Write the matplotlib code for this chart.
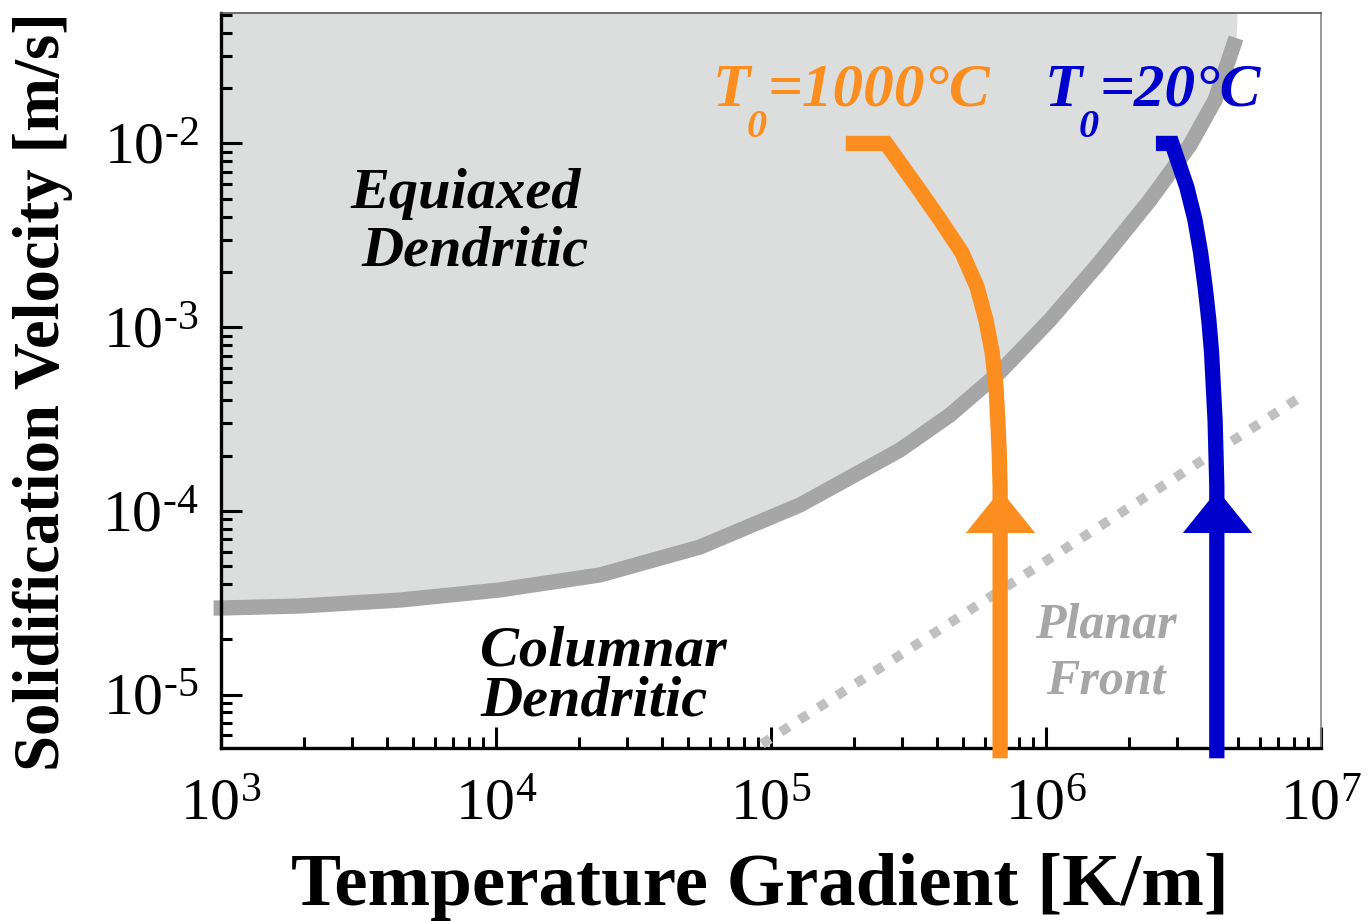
import numpy as np
import matplotlib
matplotlib.use("Agg")
import matplotlib.pyplot as plt
from matplotlib.ticker import FuncFormatter, LogLocator, NullFormatter

plt.rcParams.update({"font.family": "Liberation Serif", "mathtext.fontset": "custom",
                     "mathtext.rm": "Liberation Serif", "mathtext.it": "Liberation Serif:italic",
                     "mathtext.bf": "Liberation Serif:bold"})

# CET boundary (gray band)
cet_G = [9.4e2, 1.0e3, 1.94e3, 4.48e3, 1.03e4, 2.39e4, 5.52e4, 1.275e5, 2.945e5, 4.48e5,
         6.80e5, 1.034e6, 1.572e6, 2.39e6, 3.34e6, 4.12e6, 4.91e6]
cet_V = [2.96e-5, 2.96e-5, 3.035e-5, 3.27e-5, 3.71e-5, 4.48e-5, 6.36e-5, 1.077e-4, 2.145e-4, 3.33e-4,
         5.70e-4, 1.094e-3, 2.264e-3, 4.925e-3, 9.81e-3, 1.725e-2, 3.75e-2]
fill_top_G = 4.95e6

# planar front limit (dotted)
planar_G = [9.27e4, 8.89e6]
planar_V = [5.38e-6, 4.39e-4]

# cooling paths
hot_G = [1.87e5, 2.62e5, 3.40e5, 4.12e5, 4.95e5, 5.61e5, 6.05e5, 6.37e5, 6.58e5, 6.68e5,
         6.76e5, 6.81e5, 6.81e5]
hot_V = [1e-2, 1e-2, 5.8e-3, 3.84e-3, 2.54e-3, 1.66e-3, 1.09e-3, 7.3e-4, 4.73e-4, 3.1e-4,
         2.07e-4, 1.35e-4, 4.5e-6]
cold_G = [2.51e6, 2.87e6, 3.25e6, 3.48e6, 3.65e6, 3.79e6, 3.91e6, 4.00e6, 4.06e6, 4.12e6,
          4.15e6, 4.18e6, 4.18e6]
cold_V = [1e-2, 1e-2, 5.8e-3, 3.84e-3, 2.54e-3, 1.66e-3, 1.09e-3, 7.3e-4, 4.73e-4, 3.1e-4,
          2.07e-4, 1.35e-4, 4.5e-6]
arrow_V = 1e-4

x_ticks = [1e3, 1e4, 1e5, 1e6, 1e7]
y_ticks = [1e-5, 1e-4, 1e-3, 1e-2]
xlim = (1e3, 1e7)
ylim = (5.12e-6, 5.13e-2)

ORANGE = "#FC8D1F"
BLUE = "#0000CC"

fig = plt.figure(figsize=(13.67, 9.21), dpi=100)
ax = fig.add_axes([221/1367, 173/921, 1100/1367, 735/921])
ax.set_xscale("log"); ax.set_yscale("log")
ax.set_xlim(*xlim); ax.set_ylim(*ylim)

ax.fill_between(cet_G + [fill_top_G], cet_V + [ylim[1]], ylim[1], color="#dcdddd", lw=0, zorder=1)
ax.plot(cet_G, cet_V, color="#a6a6a6", lw=11, solid_capstyle="butt", solid_joinstyle="round",
        clip_on=False, zorder=2)
ax.plot(planar_G, planar_V, color="#c0c0c0", lw=7, ls=(0, (1, 1.3)), dash_capstyle="butt", zorder=3)

tri = [(-1, -0.62), (1, -0.62), (0, 0.62), (-1, -0.62)]
for G, V, col in [(hot_G, hot_V, ORANGE), (cold_G, cold_V, BLUE)]:
    ax.plot(G, V, color=col, lw=11, solid_capstyle="butt", solid_joinstyle="miter",
            clip_on=False, zorder=4)
    ax.plot([G[-1]], [arrow_V], marker=tri, ms=50, color=col, mew=0, ls="none", zorder=5)

# ticks
def fmt(v, p):
    e = int(round(np.log10(v)))
    s = str(e).replace("-", "\u2010")
    return r"$\mathdefault{10^{%s}}$" % s

ax.set_xticks(x_ticks); ax.set_yticks(y_ticks)
ax.xaxis.set_minor_locator(LogLocator(base=10, subs=np.arange(2, 10)))
ax.yaxis.set_minor_locator(LogLocator(base=10, subs=np.arange(2, 10)))
ax.xaxis.set_major_formatter(FuncFormatter(fmt)); ax.yaxis.set_major_formatter(FuncFormatter(fmt))
ax.xaxis.set_minor_formatter(NullFormatter()); ax.yaxis.set_minor_formatter(NullFormatter())
ax.tick_params(which="both", direction="in", top=False, right=False, width=2.2, labelsize=43)
ax.tick_params(which="major", length=15)
ax.tick_params(which="minor", length=8)
ax.tick_params(axis="x", pad=22); ax.tick_params(axis="y", pad=16)

for s in ("left", "bottom"):
    ax.spines[s].set_linewidth(2.4); ax.spines[s].set_color("black")
ax.spines["top"].set_linewidth(1.2); ax.spines["top"].set_color("#555555")
ax.spines["right"].set_linewidth(1.2); ax.spines["right"].set_color("#888888")

ax.set_xlabel("Temperature Gradient [K/m]", fontsize=54, fontweight="bold", va="baseline")
ax.xaxis.set_label_coords(0.49, -0.2136)
ax.set_ylabel("Solidification Velocity [m/s]", fontsize=46.5, fontweight="bold", va="baseline")
ax.yaxis.set_label_coords(-0.1473, 0.4844)

# region labels (pixel anchors converted to axes fraction)
def af(px, py):
    return (px - 221) / 1100, (748 - py) / 735

bi = dict(fontweight="bold", style="italic", transform=ax.transAxes, va="baseline", zorder=6)
for txt, px, py in [("Equiaxed", 466, 208), ("Dendritic", 475, 265)]:
    ax.text(*af(px, py), txt, ha="center", fontsize=42, color="black", **bi)
for txt, px, py in [("Columnar", 480, 665), ("Dendritic", 480, 715)]:
    ax.text(*af(px, py), txt, ha="left", fontsize=42, color="black", **bi)
for txt, px, py in [("Planar", 1106, 637), ("Front", 1106, 694)]:
    ax.text(*af(px, py), txt, ha="center", fontsize=36, color="#a6a6a6", **bi)

for x0, rest, col in [(713, "=1000°C", ORANGE), (1045, "=20°C", BLUE)]:
    ax.text(*af(x0, 106), "T", ha="left", fontsize=44, color=col, **bi)
    ax.text(*af(x0 + 34, 137), "0", ha="left", fontsize=29, color=col, **bi)
    ax.text(*af(x0 + 54, 106), rest, ha="left", fontsize=44, color=col, **bi)

fig.savefig("out.png", dpi=100)
